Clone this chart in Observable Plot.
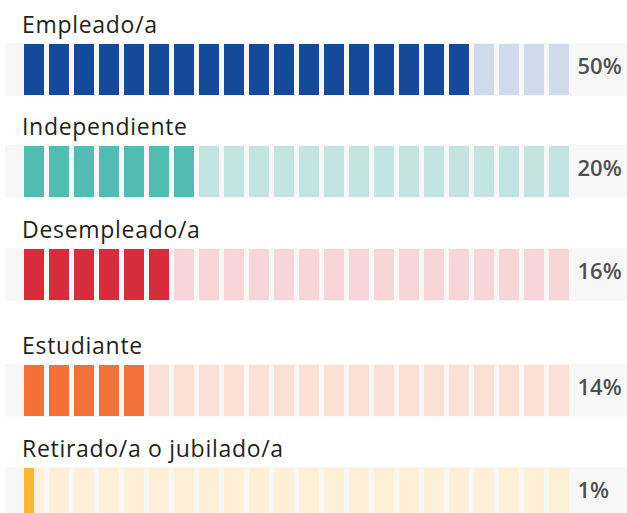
<!DOCTYPE html>
<html><head><meta charset="utf-8">
<script src="https://cdn.jsdelivr.net/npm/d3@7"></script>
<script src="https://cdn.jsdelivr.net/npm/@observablehq/plot@0.6"></script>
<style>
body{margin:0;background:#fff;font-family:"Open Sans",sans-serif;}
#chart{position:relative;width:627px;height:513px;overflow:hidden;}
.label{position:absolute;left:22px;font-size:23px;font-weight:500;line-height:22px;color:#231f20;white-space:nowrap;letter-spacing:0.7px;}
.row{position:absolute;left:5px;}
</style></head><body><div id="chart"></div>
<script>
const categories = ["Empleado/a", "Independiente", "Desempleado/a", "Estudiante", "Retirado/a o jubilado/a"];
const values = [50, 20, 16, 14, 1];
const filledCells = [18, 7, 6, 5, 0.5];
const totalCells = 22;
const valueLabels = values.map(v => v + "%");

const darkColors = ["#154a9b", "#52bbb2", "#d52d3c", "#f37036", "#fbb632"];
const lightColors = ["#cfdaea", "#c3e5e1", "#f7d5d8", "#fde0d5", "#fdf0d7"];
const rowTops = [43, 145, 248, 364, 467];
const cellShare = 0.8;

const chart = document.getElementById("chart");
categories.forEach((cat, r) => {
  const cells = d3.range(totalCells).map(i => ({i, fill: Math.max(0, Math.min(1, filledCells[r] - i))}));
  const lab = document.createElement("div");
  lab.className = "label";
  lab.style.top = (rowTops[r] - 30) + "px";
  lab.textContent = cat;
  chart.appendChild(lab);
  const p = Plot.plot({
    width: 622, height: 53,
    marginLeft: 19, marginRight: 53, marginTop: 0, marginBottom: 0,
    x: {domain: [0, totalCells], axis: null},
    style: {background: "#f7f7f7", fontFamily: "'Open Sans', sans-serif", overflow: "visible"},
    marks: [
      Plot.rect(cells, {x1: d => d.i, x2: d => d.i + cellShare, fill: lightColors[r], insetTop: 1, insetBottom: 1}),
      Plot.rect(cells.filter(d => d.fill > 0), {x1: d => d.i, x2: d => d.i + cellShare * d.fill, fill: darkColors[r], insetTop: 1, insetBottom: 1}),
      Plot.text([valueLabels[r]], {text: d => d, frameAnchor: "right", textAnchor: "start", dx: 3, dy: -3, fontSize: 22, fontWeight: 600, fill: "#505050"})
    ]
  });
  p.classList.add("row");
  p.style.top = rowTops[r] + "px";
  chart.appendChild(p);
});
</script></body></html>
